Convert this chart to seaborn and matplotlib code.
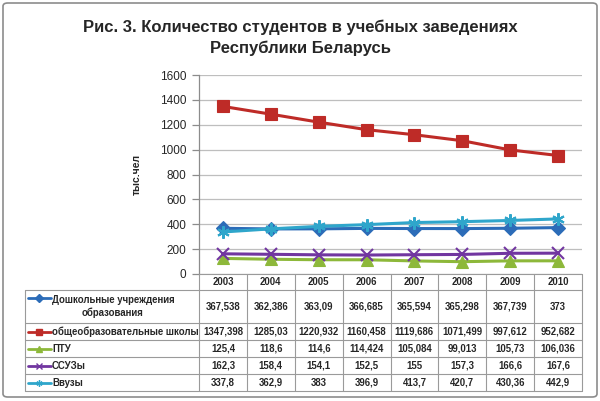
import matplotlib
matplotlib.use('Agg')
import matplotlib.pyplot as plt
import seaborn as sns
import pandas as pd
from matplotlib.lines import Line2D
from matplotlib.patches import FancyBboxPatch

years = ['2003', '2004', '2005', '2006', '2007', '2008', '2009', '2010']
series_names = ['Дошкольные учреждения\nобразования', 'общеобразовательные школы',
                'ПТУ', 'ССУЗы', 'Ввузы']
preschool = [367.538, 362.386, 363.09, 366.685, 365.594, 365.298, 367.739, 373]
schools = [1347.398, 1285.03, 1220.932, 1160.458, 1119.686, 1071.499, 997.612, 952.682]
ptu = [125.4, 118.6, 114.6, 114.424, 105.084, 99.013, 105.73, 106.036]
ssuz = [162.3, 158.4, 154.1, 152.5, 155, 157.3, 166.6, 167.6]
vuz = [337.8, 362.9, 383, 396.9, 413.7, 420.7, 430.36, 442.9]
yticks = [0, 200, 400, 600, 800, 1000, 1200, 1400, 1600]
title = 'Рис. 3. Количество студентов в учебных заведениях\nРеспублики Беларусь'
ylabel = 'тыс.чел'

all_values = [preschool, schools, ptu, ssuz, vuz]
colors = ['#2C6CB8', '#BE2B27', '#8DB83A', '#7136A0', '#2FA6CB']
seaborn_markers = ['D', 's', '^', 'X', '*']
final_markers = ['D', 's', '^', 'x', (6, 2, 0)]
msizes = [7, 9, 8, 8, 9]

sns.set_style('white')
plt.rcParams['font.family'] = ['Liberation Sans', 'DejaVu Sans']

rows = []
for name, vals in zip(series_names, all_values):
    for y, v in zip(years, vals):
        rows.append({'year': y, 'value': v, 'series': name})
df = pd.DataFrame(rows)

W, H = 600, 401
fig = plt.figure(figsize=(6, 4.01), dpi=100)
fx = lambda x: x / W
fy = lambda y: 1 - y / H

# outer border
fig.add_artist(FancyBboxPatch((fx(3), fy(397)), fx(594), (397 - 3) / H,
                              boxstyle='round,pad=0,rounding_size=0.008',
                              transform=fig.transFigure, fill=False,
                              edgecolor='#8C8C8C', linewidth=1.2))

ax = fig.add_axes([fx(199), fy(274), (582 - 199) / W, (274 - 75) / H])
sns.lineplot(data=df, x='year', y='value', hue='series', style='series',
             palette=dict(zip(series_names, colors)),
             markers=dict(zip(series_names, seaborn_markers)), dashes=False,
             ax=ax, legend=False, linewidth=2.2, sort=False)
for line, c, ms, m in zip(ax.lines, colors, msizes, final_markers):
    line.set_marker(m)
    line.set_markersize(ms)
    line.set_markeredgecolor(c)
    line.set_markerfacecolor(c)
    line.set_markeredgewidth(1.5 if m in ('x', (6, 2, 0)) else 0.8)

ax.set_xlim(-0.5, len(years) - 0.5)
ax.set_ylim(0, 1600)
ax.set_yticks(yticks)
ax.set_yticklabels([str(t) for t in yticks])
ax.set_xticks([])
ax.set_xlabel('')
ax.grid(axis='y', color='#BEBEBE', linewidth=0.9)
ax.set_axisbelow(True)
for s in ['top', 'right', 'bottom']:
    ax.spines[s].set_visible(False)
ax.spines['left'].set_color('#8C8C8C')
ax.spines['left'].set_linewidth(0.9)
ax.tick_params(axis='y', length=5, width=0.9, color='#8C8C8C', labelsize=8.5,
               pad=4, left=True)
ax.set_ylabel(ylabel, fontsize=7.5, fontweight='bold')
ax.yaxis.set_label_coords((142 - 199) / 383, 0.5)

fig.text(0.5, fy(38), title, ha='center', va='center', fontsize=12,
         fontweight='bold', linespacing=1.45)

# data table
tfam = ['Liberation Sans', 'DejaVu Sans']
tfs = 6.9
base_off = 3.4  # px from cell centre down to text baseline
lc = '#9A9A9A'
col_x = [199 + (582 - 199) * k / len(years) for k in range(len(years) + 1)]
row_y = [274, 290, 323, 340, 357, 374, 391]
left_x = 25


def hline(x0, x1, y):
    fig.add_artist(Line2D([fx(x0), fx(x1)], [fy(y), fy(y)], color=lc,
                          linewidth=0.8, transform=fig.transFigure))


def vline(x, y0, y1):
    fig.add_artist(Line2D([fx(x), fx(x)], [fy(y0), fy(y1)], color=lc,
                          linewidth=0.8, transform=fig.transFigure))


hline(col_x[0], col_x[-1], row_y[0])
for y in row_y[1:]:
    hline(left_x, col_x[-1], y)
for x in col_x:
    vline(x, row_y[0], row_y[-1])
vline(left_x, row_y[1], row_y[-1])

for k, yr in enumerate(years):
    cx = (col_x[k] + col_x[k + 1]) / 2
    fig.text(fx(cx), fy((row_y[0] + row_y[1]) / 2 + base_off), yr, ha='center',
             va='baseline', fontsize=tfs, fontweight='bold', family=tfam)

for i, (name, vals, c, m) in enumerate(zip(series_names, all_values, colors, final_markers)):
    y0, y1 = row_y[i + 1], row_y[i + 2]
    cy = (y0 + y1) / 2
    for k, v in enumerate(vals):
        cx = (col_x[k] + col_x[k + 1]) / 2
        fig.text(fx(cx), fy(cy + base_off), str(v).replace('.', ','), ha='center',
                 va='baseline', fontsize=tfs, fontweight='bold', family=tfam)
    ky = y0 + 8 if '\n' in name else cy
    fig.add_artist(Line2D([fx(28), fx(51)], [fy(ky), fy(ky)], color=c, linewidth=2,
                          transform=fig.transFigure))
    fig.add_artist(Line2D([fx(39.5)], [fy(ky)], color=c, marker=m, markersize=4.5,
                          markeredgecolor=c, markerfacecolor=c, markeredgewidth=1,
                          transform=fig.transFigure))
    if '\n' in name:
        fig.text(fx(113), fy(cy), name, ha='center', va='center', fontsize=tfs,
                 fontweight='bold', family=tfam, multialignment='center',
                 linespacing=1.4)
    else:
        fig.text(fx(52), fy(cy + base_off), name, ha='left', va='baseline',
                 fontsize=tfs, fontweight='bold', family=tfam)

fig.savefig('out.png', dpi=100, facecolor='white')
